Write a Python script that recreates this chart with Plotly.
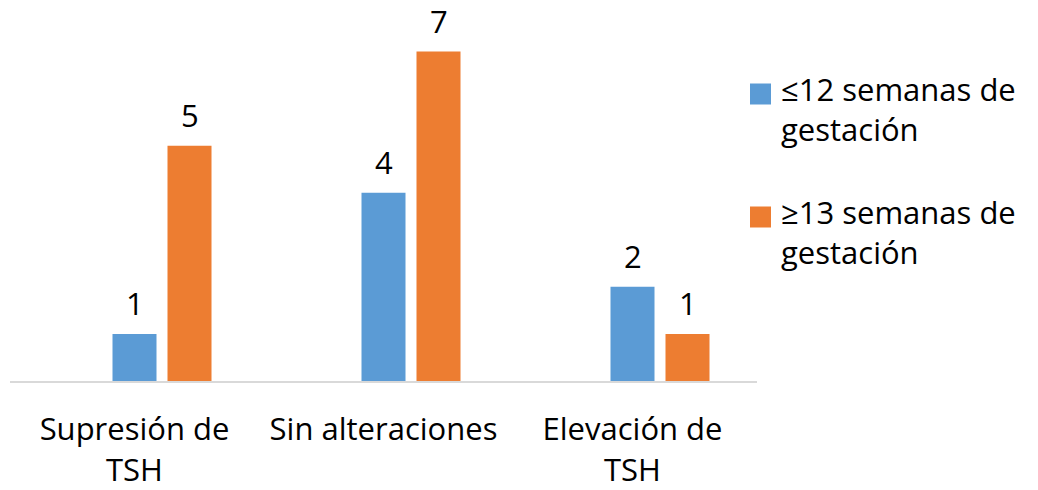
import plotly.graph_objects as go

categories = ["Supresión de<br>TSH", "Sin alteraciones", "Elevación de<br>TSH"]
series_names = ["≤12 semanas de gestación", "≥13 semanas de gestación"]
legend_labels = ["≤12 semanas de<br>gestación", "≥13 semanas de<br>gestación"]
values_le12 = [1, 4, 2]
values_ge13 = [5, 7, 1]

colors = ["#5B9BD5", "#ED7D31"]
FONT = "Open Sans"
FS = 31
W, H = 1038, 490
ML, MR, MT, MB = 10, 281, 20, 109
plot_w = W - ML - MR
cat_px = plot_w / len(categories)
bar_w = 44 / cat_px
slot = 55 / cat_px
offsets = [-bar_w / 2, -bar_w / 2 + slot]
ymax = 7.67

fig = go.Figure()
for name, vals, col, off in zip(series_names, [values_le12, values_ge13], colors, offsets):
    fig.add_trace(go.Bar(
        x=categories, y=vals, name=name, marker=dict(color=col, line=dict(width=0)),
        width=bar_w, offset=off, showlegend=False,
    ))
    for c, v in zip(categories, vals):
        fig.add_annotation(
            x=c, y=v, xref="x", yref="y", text=str(v), showarrow=False,
            xanchor="center", yanchor="bottom",
            xshift=(off + bar_w / 2) * cat_px, yshift=8,
            font=dict(family=FONT, size=FS, color="#000000"),
        )

# manual legend (large swatches)
legend_y_px = [287, 164]  # swatch centres in px above baseline
for label, col, yc in zip(legend_labels, colors, legend_y_px):
    fig.add_shape(
        type="rect", xref="paper", yref="y", xsizemode="pixel", ysizemode="pixel",
        xanchor=1, yanchor=0, x0=-7, x1=14, y0=yc - 10.5, y1=yc + 10.5,
        fillcolor=col, line=dict(width=0),
    )
    fig.add_annotation(
        x=1, y=0, xref="paper", yref="y", text=label, showarrow=False,
        xanchor="left", yanchor="top", align="left", xshift=22,
        yshift=yc + 28, font=dict(family=FONT, size=FS, color="#000000"),
    )

fig.update_layout(
    width=W, height=H, margin=dict(l=ML, r=MR, t=MT, b=MB),
    paper_bgcolor="white", plot_bgcolor="white", barmode="overlay",
    font=dict(family=FONT, size=FS, color="#000000"), showlegend=False,
)
fig.update_xaxes(
    showline=True, linecolor="#D9D9D9", linewidth=2, ticks="", showgrid=False,
    automargin=False,
    tickfont=dict(family=FONT, size=FS, color="#000000"), ticklabelstandoff=20,
)
fig.update_yaxes(range=[0, ymax], visible=False, showgrid=False, zeroline=False)

fig.write_html("out.html")
